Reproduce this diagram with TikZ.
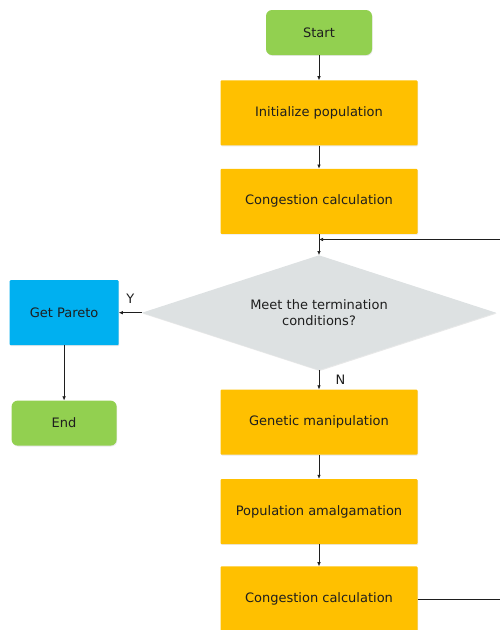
\documentclass[tikz,border=0pt]{standalone}
\usepackage{fontspec}
\setmainfont{DejaVu Sans}
\usepackage{xcolor}
\usetikzlibrary{shapes.geometric,arrows.meta,positioning,shadows,calc}
\definecolor{startgreen}{HTML}{92D050}
\definecolor{stepyellow}{HTML}{FFC000}
\definecolor{paretoblue}{HTML}{00B0F0}
\definecolor{decgray}{HTML}{DDE1E2}
\definecolor{txt}{HTML}{1E1E1E}

\begin{document}
\begin{tikzpicture}[x=1pt,y=1pt,
  base/.style={font=\fontsize{13}{16}\selectfont,text=txt,align=center,inner sep=2pt,
    drop shadow={opacity=0.18,shadow xshift=0.6pt,shadow yshift=-0.9pt}},
  term/.style={base,fill=startgreen,rounded corners=6pt,minimum width=106pt,minimum height=45pt},
  proc/.style={base,fill=stepyellow,rounded corners=1pt,minimum width=197pt,minimum height=65pt},
  dec/.style={base,diamond,shape aspect=3.08,fill=decgray,inner sep=0pt,minimum width=354pt,minimum height=115pt},
  resbox/.style={base,fill=paretoblue,rounded corners=1pt,minimum width=109pt,minimum height=65pt},
  arr/.style={-{Latex[length=4pt,width=3.5pt]},semithick,txt},
  lab/.style={font=\fontsize{13}{16}\selectfont,text=txt},
  node distance=23pt,
]
  \useasboundingbox (0,0) rectangle (499,-630);

  \node[term] (start) at (319,-32.5) {Start};
  \node[proc,below=25pt of start] (init) {Initialize population};
  \node[proc,below=of init] (cong) {Congestion calculation};
  \node[dec,below=21pt of cong] (cond) {Meet the termination\\conditions?};
  \node[resbox,left=of cond] (pareto) {Get Pareto};
  \node[term,below=55pt of pareto,minimum width=105pt] (end) {End};
  \node[proc,below=19pt of cond] (gen) {Genetic manipulation};
  \node[proc,below=24pt of gen] (amal) {Population amalgamation};
  \node[proc,below=22pt of amal] (congb) {Congestion calculation};

  % loop back, runs off the right edge
  \coordinate (merge) at ($(cong.south)!0.26!(cond.north)$);
  \coordinate (loopr) at (530,0);

  \draw[arr] (start) -- (init);
  \draw[arr] (init) -- (cong);
  \draw[arr] (cong) -- (cond);
  \draw[arr] (cond) -- node[lab,above=6pt]{Y} (pareto);
  \draw[arr] (pareto) -- (end);
  \draw[arr] (cond) -- node[lab,right=13pt]{N} (gen);
  \draw[arr] (gen) -- (amal);
  \draw[arr] (amal) -- (congb);
  \draw[semithick,txt] (congb.east) -- (congb.east -| loopr) -- (merge -| loopr);
  \draw[arr] (merge -| loopr) -- (merge);
\end{tikzpicture}
\end{document}
